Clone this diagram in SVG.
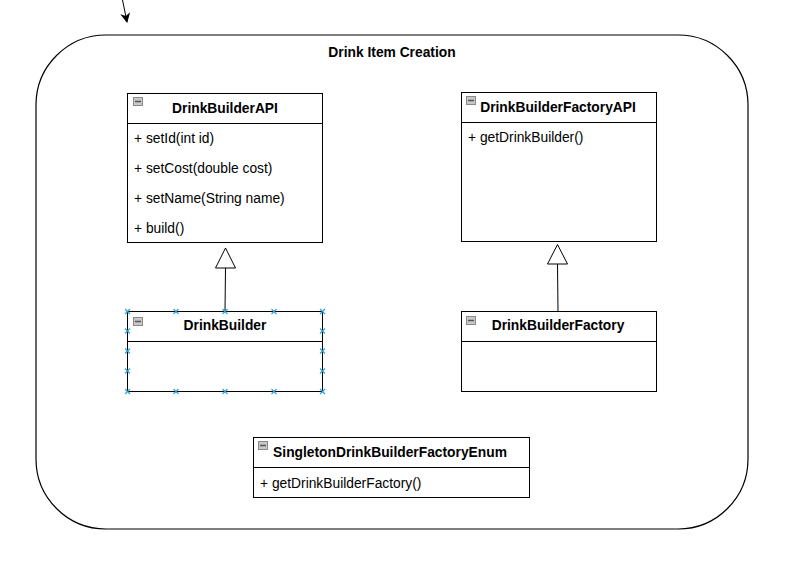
<svg xmlns="http://www.w3.org/2000/svg" width="792" height="564" viewBox="0 0 792 564">
<defs>
<style>
.box{fill:#fff;stroke:#000;stroke-width:1}
.sep{stroke:#000;stroke-width:1}
.ttl{font-family:"Liberation Sans",Arial,sans-serif;font-size:13.8px;font-weight:bold;fill:#000}
.itm{font-family:"Liberation Sans",Arial,sans-serif;font-size:13.8px;fill:#000}
.ico{fill:#c8c8c8;stroke:#8a8a8a;stroke-width:1}
.icm{stroke:#555;stroke-width:1.5}
.edge{fill:none;stroke:#000;stroke-width:1}
.tri{fill:#fff;stroke:#000;stroke-width:1}
.hnd{stroke:#2b9fd8;stroke-width:1.1}
</style>
<marker id="arr" markerWidth="10" markerHeight="10" refX="9" refY="5" orient="auto" markerUnits="userSpaceOnUse">
<path d="M0,0 L10,5 L0,10 L3,5 Z" fill="#000"/>
</marker>
<g id="icon"><rect class="ico" x="0" y="0" width="9" height="8"/><line class="icm" x1="1.5" y1="4" x2="7.5" y2="4"/></g>
<g id="hx"><line class="hnd" x1="-2.5" y1="-2.5" x2="2.5" y2="2.5"/><line class="hnd" x1="-2.5" y1="2.5" x2="2.5" y2="-2.5"/></g>
</defs>
<rect width="792" height="564" fill="#fff"/>

<g id="container">
<rect x="36" y="35" width="712" height="494" rx="70" ry="70" fill="#fff" stroke="#000" stroke-width="1.2"/>
<text class="ttl" x="392" y="57" text-anchor="middle">Drink Item Creation</text>
</g>

<g id="connectors">
<line class="edge" x1="122.5" y1="0" x2="127" y2="22" marker-end="url(#arr)"/>
<line class="edge" x1="225.5" y1="268" x2="225" y2="311"/>
<polygon class="tri" points="225.5,248 235.5,268 215.5,268"/>
<line class="edge" x1="557.5" y1="264" x2="558" y2="311"/>
<polygon class="tri" points="557.5,244.5 567.5,264 547.5,264"/>
</g>

<g id="DrinkBuilderAPI">
<rect class="box" x="127.5" y="93.5" width="195" height="149"/>
<line class="sep" x1="127.5" y1="123.5" x2="322.5" y2="123.5"/>
<use href="#icon" x="133.5" y="97.5"/>
<text class="ttl" x="225" y="113" text-anchor="middle">DrinkBuilderAPI</text>
<text class="itm" x="134" y="143">+ setId(int id)</text>
<text class="itm" x="134" y="173">+ setCost(double cost)</text>
<text class="itm" x="134" y="203">+ setName(String name)</text>
<text class="itm" x="134" y="233">+ build()</text>
</g>

<g id="DrinkBuilder">
<rect class="box" x="127.5" y="311.5" width="195" height="80"/>
<line class="sep" x1="127.5" y1="341.5" x2="322.5" y2="341.5"/>
<use href="#icon" x="133.5" y="317.5"/>
<text class="ttl" x="225" y="330" text-anchor="middle">DrinkBuilder</text>
<g id="handles">
<use href="#hx" x="127.5" y="311.5"/><use href="#hx" x="176" y="311.5"/><use href="#hx" x="225" y="311.5"/><use href="#hx" x="274" y="311.5"/><use href="#hx" x="322.5" y="311.5"/>
<use href="#hx" x="127.5" y="391.5"/><use href="#hx" x="176" y="391.5"/><use href="#hx" x="225" y="391.5"/><use href="#hx" x="274" y="391.5"/><use href="#hx" x="322.5" y="391.5"/>
<use href="#hx" x="127.5" y="331"/><use href="#hx" x="127.5" y="351"/><use href="#hx" x="127.5" y="371"/>
<use href="#hx" x="322.5" y="331"/><use href="#hx" x="322.5" y="351"/><use href="#hx" x="322.5" y="371"/>
</g>
</g>

<g id="DrinkBuilderFactoryAPI">
<rect class="box" x="461.5" y="92.5" width="195" height="149"/>
<line class="sep" x1="461.5" y1="122.5" x2="656.5" y2="122.5"/>
<use href="#icon" x="466.5" y="96.5"/>
<text class="ttl" x="558" y="112" text-anchor="middle">DrinkBuilderFactoryAPI</text>
<text class="itm" x="468" y="142">+ getDrinkBuilder()</text>
</g>

<g id="DrinkBuilderFactory">
<rect class="box" x="461.5" y="311.5" width="195" height="80"/>
<line class="sep" x1="461.5" y1="341.5" x2="656.5" y2="341.5"/>
<use href="#icon" x="466.5" y="316.5"/>
<text class="ttl" x="558" y="330" text-anchor="middle">DrinkBuilderFactory</text>
</g>

<g id="SingletonDrinkBuilderFactoryEnum">
<rect class="box" x="253.5" y="437.5" width="276" height="60"/>
<line class="sep" x1="253.5" y1="467.5" x2="529.5" y2="467.5"/>
<use href="#icon" x="258.5" y="441.5"/>
<text class="ttl" x="390" y="457" text-anchor="middle">SingletonDrinkBuilderFactoryEnum</text>
<text class="itm" x="260" y="488">+ getDrinkBuilderFactory()</text>
</g>
</svg>
